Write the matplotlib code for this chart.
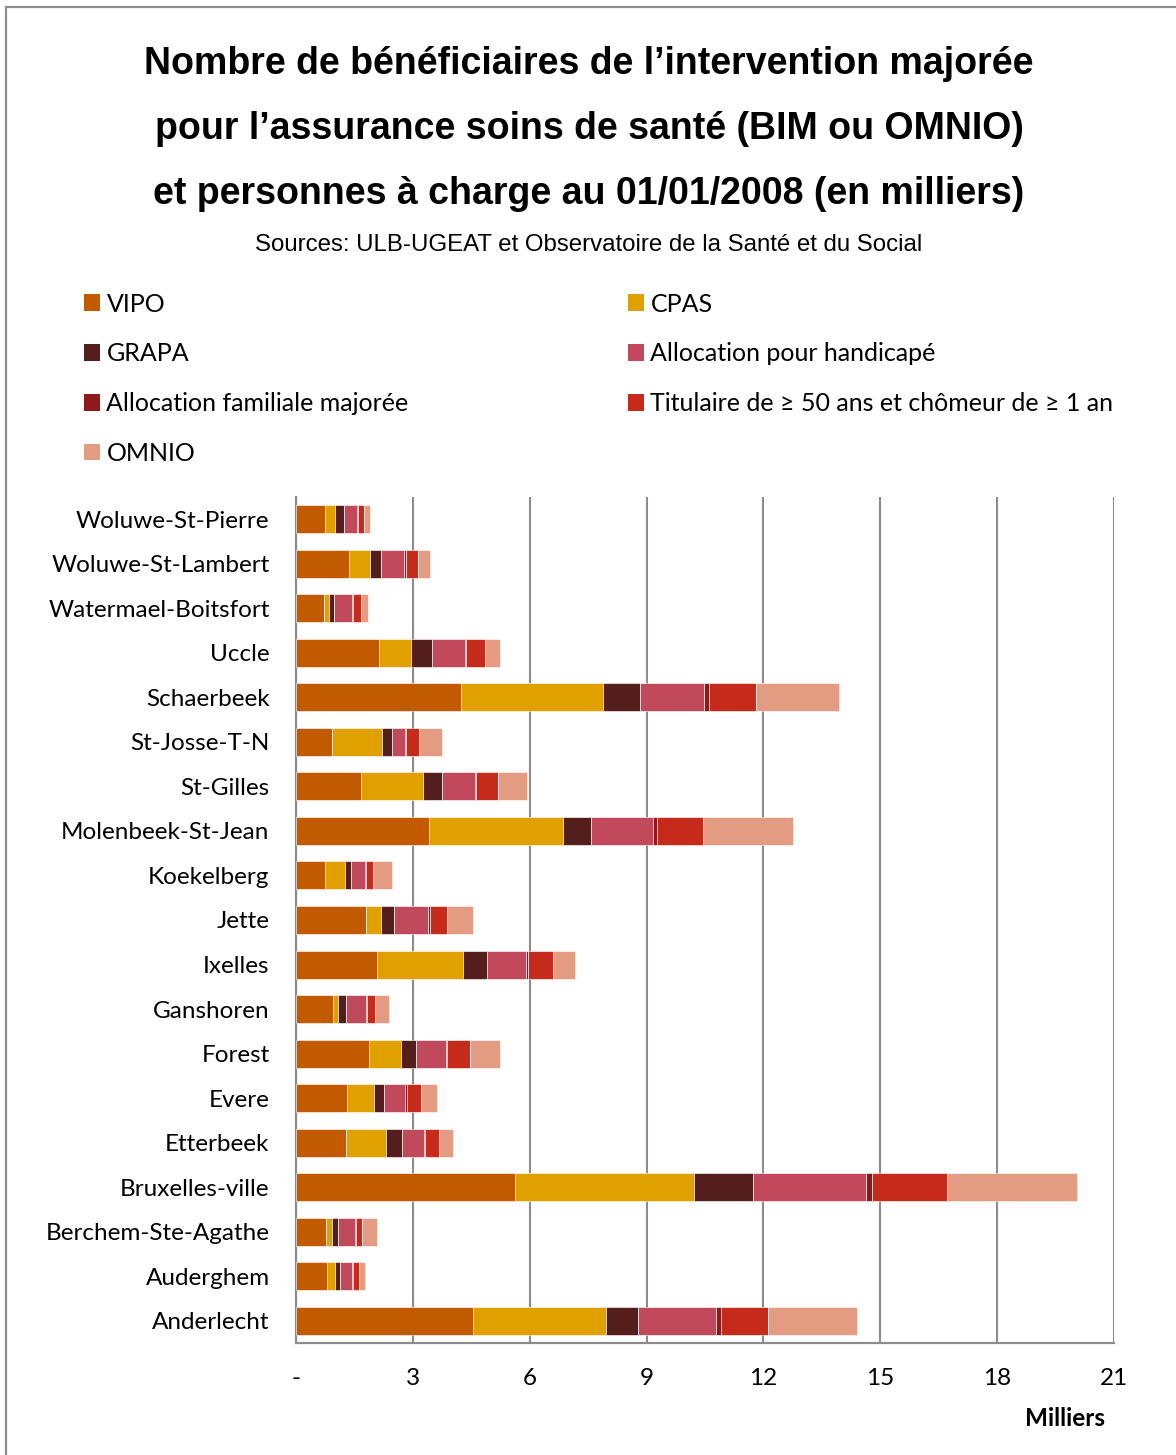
"""Bénéficiaires BIM/OMNIO par commune bruxelloise (2008) — barres horizontales empilées."""
import matplotlib
matplotlib.use("Agg")
import matplotlib.pyplot as plt
from matplotlib.patches import Rectangle, Patch
import numpy as np

communes = ["Woluwe-St-Pierre", "Woluwe-St-Lambert", "Watermael-Boitsfort", "Uccle",
            "Schaerbeek", "St-Josse-T-N", "St-Gilles", "Molenbeek-St-Jean", "Koekelberg",
            "Jette", "Ixelles", "Ganshoren", "Forest", "Evere", "Etterbeek",
            "Bruxelles-ville", "Berchem-Ste-Agathe", "Auderghem", "Anderlecht"]

# valeurs en milliers, même ordre que communes
vipo      = [0.75, 1.37, 0.73, 2.14, 4.24, 0.93, 1.66, 3.41, 0.75, 1.80, 2.08, 0.96, 1.88, 1.31, 1.29, 5.61, 0.77, 0.80, 4.55]
cpas      = [0.24, 0.54, 0.11, 0.80, 3.65, 1.28, 1.60, 3.44, 0.51, 0.39, 2.22, 0.12, 0.82, 0.70, 1.03, 4.61, 0.16, 0.19, 3.40]
grapa     = [0.23, 0.28, 0.13, 0.55, 0.95, 0.25, 0.50, 0.72, 0.16, 0.33, 0.61, 0.21, 0.37, 0.24, 0.41, 1.50, 0.15, 0.14, 0.83]
handicap  = [0.34, 0.59, 0.47, 0.84, 1.63, 0.34, 0.84, 1.60, 0.35, 0.88, 1.00, 0.50, 0.78, 0.56, 0.56, 2.91, 0.44, 0.30, 2.00]
fam_maj   = [0.03, 0.04, 0.03, 0.03, 0.12, 0.02, 0.03, 0.11, 0.02, 0.04, 0.04, 0.02, 0.02, 0.03, 0.03, 0.17, 0.01, 0.03, 0.14]
titulaire = [0.16, 0.32, 0.19, 0.48, 1.22, 0.35, 0.56, 1.17, 0.19, 0.43, 0.65, 0.22, 0.60, 0.37, 0.35, 1.92, 0.17, 0.16, 1.20]
omnio     = [0.14, 0.31, 0.19, 0.41, 2.13, 0.58, 0.73, 2.32, 0.48, 0.67, 0.57, 0.35, 0.77, 0.42, 0.36, 3.32, 0.39, 0.15, 2.27]

series = [
    ("VIPO", vipo, "#C25B00"),
    ("CPAS", cpas, "#E0A000"),
    ("GRAPA", grapa, "#541E1C"),
    ("Allocation pour handicapé", handicap, "#C1495C"),
    ("Allocation familiale majorée", fam_maj, "#8E191B"),
    ("Titulaire de \u2265 50 ans et chômeur de \u2265 1 an", titulaire, "#C52A1B"),
    ("OMNIO", omnio, "#E39B82"),
]

BODY = ["Lato", "DejaVu Sans"]
GRID = "#8c8c8c"
FS = 17.5

fig = plt.figure(figsize=(11.76, 14.55), dpi=100)
# cadre gris autour du graphique
fig.patches.append(Rectangle((6 / 1176, -0.1), 1.2, 1 - 7 / 1455 + 0.1, transform=fig.transFigure,
                             fill=False, edgecolor=GRID, lw=1.6))

ax = fig.add_axes([296 / 1176, 1 - 1343 / 1455, 818 / 1176, 846 / 1455])

y = np.arange(len(communes))[::-1]
left = np.zeros(len(communes))
for name, vals, col in series:
    ax.barh(y, vals, left=left, height=0.63, color=col, edgecolor=(1, 1, 1, 0.6),
            linewidth=0.7, label=name, zorder=3)
    left += np.array(vals)

ax.set_xlim(0, 21)
ax.set_ylim(-0.5, len(communes) - 0.5)
ax.set_xticks(np.arange(0, 22, 3))
ax.set_xticklabels(["-"] + [str(v) for v in range(3, 22, 3)], family=BODY, fontsize=FS)
ax.set_yticks(y)
ax.set_yticklabels(communes, family=BODY, fontsize=FS)
ax.tick_params(axis="both", length=0)
ax.tick_params(axis="y", pad=19)
ax.tick_params(axis="x", pad=18)
ax.grid(axis="x", color=GRID, lw=1.5, zorder=0)
for s in ("top", "right"):
    ax.spines[s].set_visible(False)
for s in ("left", "bottom"):
    ax.spines[s].set_color(GRID)
    ax.spines[s].set_linewidth(1.6)

fig.text(1105 / 1176, 1 - 1418 / 1455, "Milliers", ha="right", va="center",
         family=BODY, fontsize=FS, fontweight="bold")

fig.text(589 / 1176, 1 - 129 / 1455,
         "Nombre de bénéficiaires de l\u2019intervention majorée\n"
         "pour l\u2019assurance soins de santé (BIM ou OMNIO)\n"
         "et personnes à charge au 01/01/2008 (en milliers)",
         ha="center", va="center", family="Liberation Sans", fontweight="bold",
         fontsize=27, linespacing=2.03)
fig.text(589 / 1176, 1 - 245 / 1455,
         "Sources: ULB-UGEAT et Observatoire de la Santé et du Social",
         ha="center", va="center", family="Liberation Sans", fontsize=17.3)

# légende sur deux colonnes, remplie colonne par colonne
handles = [Patch(facecolor=c, label=n) for n, _, c in series]
order = [0, 2, 4, 6, 1, 3, 5]
fig.legend([handles[i] for i in order], [handles[i].get_label() for i in order],
           ncol=2, loc="upper left", bbox_to_anchor=(66 / 1176, 1 - 275 / 1455),
           frameon=False, prop={"family": BODY, "size": 18},
           handlelength=0.66, handleheight=0.66, handletextpad=0.26,
           labelspacing=1.07, columnspacing=8.75, borderpad=0.2)

fig.savefig("out.png", dpi=100)
